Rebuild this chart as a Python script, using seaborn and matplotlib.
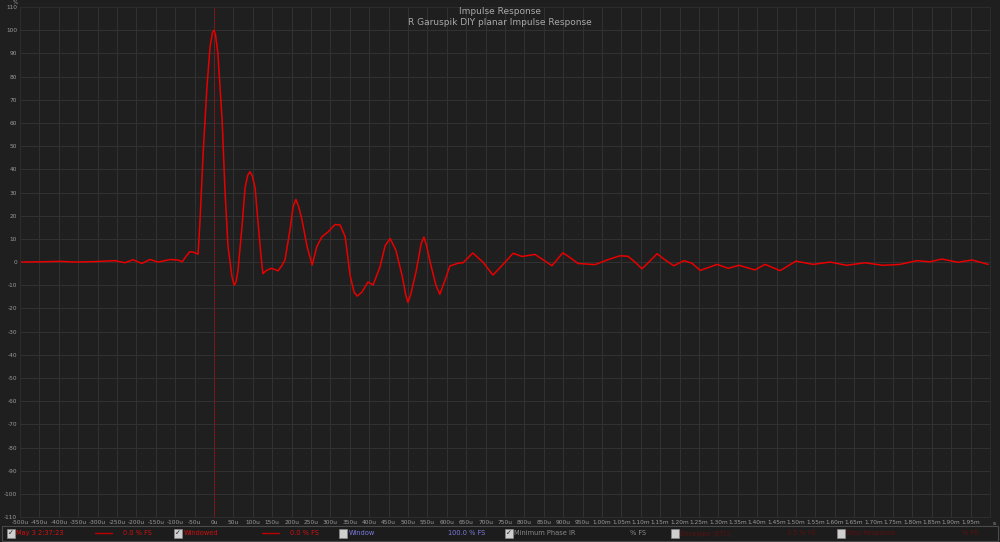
import numpy as np
import pandas as pd
import matplotlib
matplotlib.use("Agg")
import matplotlib.pyplot as plt
import seaborn as sns

# impulse response (time in microseconds, value in % FS)
time_us = [-500, -448, -397, -358, -307, -255, -229, -209, -186, -165, -144, -113, -93, -82,
           -72, -62, -52, -41, -36, -28, -18, -10, -4, 0, 4, 10, 21, 28, 36, 46, 52, 57, 62,
           72, 80, 87, 93, 99, 106, 113, 121, 126, 136, 149, 165, 175, 183, 196, 204, 211, 218,
           227, 240, 253, 265, 278, 294, 312, 325, 338, 351, 361, 369, 381, 397, 410, 428, 441,
           454, 469, 485, 494, 500, 507, 521, 534, 541, 548, 557, 572, 582, 595, 608, 629, 642,
           667, 693, 719, 745, 771, 794, 827, 848, 871, 899, 917, 938, 982, 1015, 1046, 1067,
           1085, 1103, 1124, 1142, 1162, 1185, 1211, 1232, 1253, 1297, 1325, 1353, 1394, 1420,
           1459, 1500, 1544, 1588, 1631, 1678, 1724, 1768, 1812, 1845, 1876, 1917, 1954, 1995]
level_pct = [0.0, 0.1, 0.3, 0.0, 0.2, 0.6, -0.3, 1.0, -0.6, 1.1, 0.0, 1.1, 0.9, 0.1,
             2.5, 4.5, 4.2, 3.4, 18, 47, 76, 93, 99, 100, 98, 90, 61, 32, 7, -6, -10, -8.5, -3.4,
             15, 32, 37.5, 39, 37, 32, 18, 3, -5, -3.5, -2.7, -3.8, -1.5, 1, 14, 24, 27, 24,
             18, 6.6, -1.3, 6.6, 10.9, 13, 16.2, 16, 11, -6, -13, -14.7, -13, -8.6, -9.9, -2, 7,
             10.2, 5, -6, -14, -17.4, -14, -4, 8, 10.8, 7, 0, -10, -13.9, -8, -1.7, -0.5, -0.3,
             3.9, 0, -5.6, -1, 3.8, 2.4, 3.3, 1, -1.6, 4.0, 2, -0.6, -1.1, 1, 2.7, 2.5,
             0, -2.9, 0.5, 3.6, 1, -1.6, 0.6, -0.5, -3.6, -1.0, -2.7, -1.4, -3.4, -1.0,
             -3.7, 0.4, -1.0, 0, -1.4, -0.3, -1.4, -1.0, 0.6, 0.1, 1.3, -0.1, 0.9, -1.0]

x_ticks = list(range(-500, 2000, 50))
x_labels = [f"{t}u" if t < 1000 else f"{t / 1000:.2f}m" for t in x_ticks]
y_ticks = list(range(-110, 120, 10))

df = pd.DataFrame({"t": time_us, "v": level_pct})

bg = "#1f1f1f"
grid_c = "#323232"
txt_c = "#9a9a9a"

sns.set_style("dark")
plt.rcParams["font.family"] = ["DejaVu Sans"]

fig = plt.figure(figsize=(10, 5.42), dpi=100, facecolor=bg)
ax = fig.add_axes([0.02, 0.046, 0.97, 0.941])
ax.set_facecolor(bg)

sns.lineplot(data=df, x="t", y="v", color="#e80000", linewidth=1.1, ax=ax)
ax.axvline(0, color="#c00000", linewidth=0.7, linestyle=(0, (1.5, 1.5)))

ax.set_xlim(-500, 2000)
ax.set_ylim(-110, 110)
ax.set_xticks(x_ticks)
ax.set_xticklabels(x_labels)
ax.set_yticks(y_ticks)
ax.set_yticklabels([str(v) for v in y_ticks])
ax.tick_params(axis="both", colors=txt_c, labelsize=4.2, length=0, pad=2)
ax.grid(True, color=grid_c, linewidth=0.7)
ax.set_xlabel("")
ax.set_ylabel("")
for s in ax.spines.values():
    s.set_color("#2c2c2c")
    s.set_linewidth(0.8)

fig.text(0.0125, 1.0, "%", color=txt_c, fontsize=4, va="top")
fig.text(0.993, 0.039, "s", color=txt_c, fontsize=4.2, va="top")
fig.text(0.5, 0.978, "Impulse Response", color="#a8a8a8", fontsize=6.5, ha="center", va="center")
fig.text(0.5, 0.959, "R Garuspik DIY planar Impulse Response", color="#a8a8a8", fontsize=6.5,
         ha="center", va="center")

# legend bar at the bottom
fig.patches.append(plt.Rectangle((0.002, 0.002), 0.996, 0.028, transform=fig.transFigure,
                                 facecolor="#1c1c1c", edgecolor="#4a4a4a", linewidth=0.8))
items = [
    (0.007, True, "May 3 2:37:23", "#d01010", True, "0.0 % FS", 0.123),
    (0.174, True, "Windowed", "#d01010", True, "0.0 % FS", 0.290),
    (0.339, False, "Window", "#7a7ae0", False, "100.0 % FS", 0.448),
    (0.505, True, "Minimum Phase IR", "#8a8a8a", False, "% FS", 0.630),
    (0.671, False, "Envelope (ETC)", "#5a1010", False, "3.5 % FS", 0.787),
    (0.837, False, "Step Response", "#5a1010", False, "% FS", 0.962),
]
y_row = 0.016
for x0, checked, label, col, has_line, fs, xfs in items:
    fig.patches.append(plt.Rectangle((x0, y_row - 0.008), 0.0075, 0.016, transform=fig.transFigure,
                                     facecolor="#cfcfcf", edgecolor="#888888", linewidth=0.5))
    if checked:
        fig.text(x0 + 0.0038, y_row, "\u2713", color="#202020", fontsize=5, ha="center",
                 va="center")
    fig.text(x0 + 0.0095, y_row, label, color=col, fontsize=4.8, va="center")
    if has_line:
        fig.lines.append(plt.Line2D([x0 + 0.088, x0 + 0.105], [y_row, y_row],
                                    transform=fig.transFigure, color="#c00000", linewidth=1))
    fig.text(xfs, y_row, fs, color=col, fontsize=4.8, va="center")

fig.savefig("out.png", dpi=100, facecolor=bg)
